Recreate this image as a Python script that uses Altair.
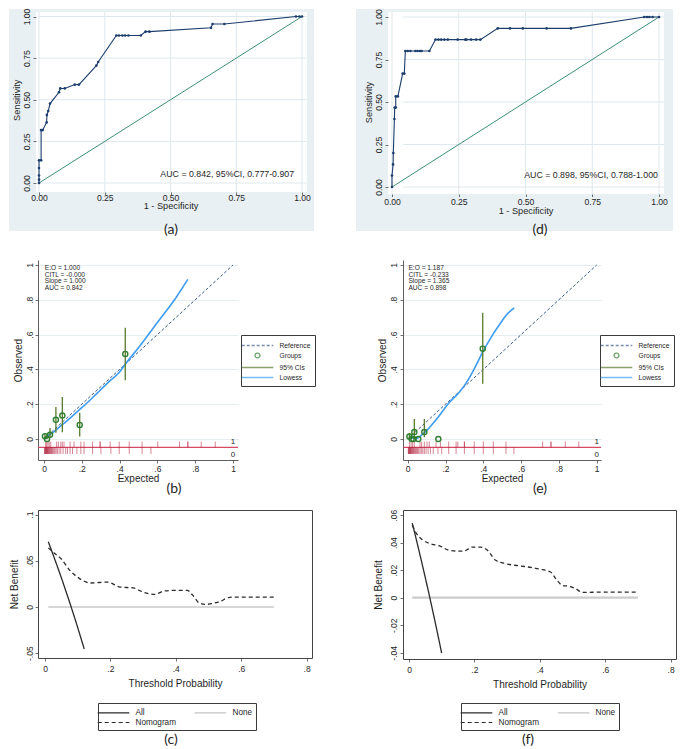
import altair as alt
import pandas as pd

FONT = "Liberation Sans"
CAPFONT = "Lato"
INK = "#1f1f1f"
ROC_BG = "#e8f0f3"
ROC_GRID = "#dfe8ec"
ROC_LINE = "#1c3e6e"
ROC_DIAG = "#3d8f78"
CAL_GRID = "#e6edf1"
C_REF = "#3e5c88"
C_GRP = "#2f7f30"
C_CI = "#587b2b"
C_LOW = "#3d9cf0"
RUG = "#b0203c"
RUG_LINE = "#d64a63"
DCA_DARK = "#2b2b2b"

# ---------------------------------------------------------------- data
roc_ticks = [0, 0.25, 0.5, 0.75, 1.0]
diag_x = [0.0, 1.0]
diag_y = [0.0, 1.0]

# (a) ROC
roc_a_fpr = [0.000, 0.000, 0.000, 0.000, 0.000, 0.008, 0.008, 0.014, 0.029, 0.030, 0.035, 0.042,
             0.076, 0.081, 0.098, 0.136, 0.152, 0.218, 0.225, 0.294, 0.304, 0.317, 0.327, 0.340,
             0.387, 0.405, 0.420, 0.654, 0.660, 0.705, 0.977, 0.990, 1.000]
roc_a_sens = [0.000, 0.020, 0.045, 0.090, 0.136, 0.136, 0.318, 0.318, 0.364, 0.409, 0.432, 0.477,
              0.545, 0.568, 0.568, 0.591, 0.591, 0.705, 0.727, 0.886, 0.886, 0.886, 0.886, 0.886,
              0.886, 0.909, 0.909, 0.932, 0.955, 0.955, 1.000, 1.000, 1.000]
roc_a_label = "AUC = 0.842, 95%CI, 0.777-0.907"

# (d) ROC
roc_d_fpr = [0.000, 0.000, 0.004, 0.005, 0.009, 0.010, 0.014, 0.014, 0.022, 0.040, 0.046, 0.050,
             0.059, 0.069, 0.088, 0.096, 0.105, 0.111, 0.140, 0.163, 0.174, 0.184, 0.196, 0.209,
             0.246, 0.274, 0.279, 0.296, 0.315, 0.331, 0.396, 0.442, 0.490, 0.579, 0.670,
             0.945, 0.955, 0.964, 0.976, 1.000]
roc_d_sens = [0.000, 0.067, 0.133, 0.200, 0.400, 0.467, 0.467, 0.533, 0.533, 0.667, 0.667, 0.800,
              0.800, 0.800, 0.800, 0.800, 0.800, 0.800, 0.800, 0.867, 0.867, 0.867, 0.867, 0.867,
              0.867, 0.867, 0.867, 0.867, 0.867, 0.867, 0.933, 0.933, 0.933, 0.933, 0.933,
              1.000, 1.000, 1.000, 1.000, 1.000]
roc_d_label = "AUC = 0.898, 95%CI, 0.788-1.000"

# calibration
cal_ticks = [0, 0.2, 0.4, 0.6, 0.8, 1.0]
cal_legend = ["Reference", "Groups", "95% CIs", "Lowess"]
ref_x = [0.0, 1.0]
ref_y = [0.0, 1.0]

# (b)
cal_b_gx = [0.005, 0.016, 0.032, 0.063, 0.097, 0.189, 0.430]
cal_b_gy = [0.016, 0.000, 0.024, 0.110, 0.135, 0.081, 0.489]
cal_b_lo = [0.000, 0.000, 0.006, 0.036, 0.039, 0.014, 0.337]
cal_b_hi = [0.035, 0.025, 0.063, 0.184, 0.241, 0.151, 0.640]
cal_b_lx = [0.005, 0.05, 0.10, 0.15, 0.20, 0.25, 0.283, 0.35, 0.40, 0.43, 0.50, 0.60, 0.70, 0.761]
cal_b_ly = [0.008, 0.040, 0.085, 0.132, 0.180, 0.230, 0.265, 0.335, 0.385, 0.430, 0.525, 0.670, 0.815, 0.917]
cal_b_rug1 = [0.009, 0.014, 0.021, 0.028, 0.036, 0.067, 0.076, 0.089, 0.097, 0.106, 0.138, 0.159,
              0.195, 0.212, 0.257, 0.297, 0.297, 0.350, 0.398, 0.451, 0.519, 0.602, 0.717, 0.761,
              0.761, 0.832, 0.906]
cal_b_rug0 = [0.003, 0.005, 0.007, 0.009, 0.011, 0.013, 0.015, 0.017, 0.019, 0.021, 0.024, 0.027,
              0.030, 0.033, 0.036, 0.040, 0.044, 0.048, 0.053, 0.058, 0.064, 0.071, 0.080, 0.089,
              0.101, 0.115, 0.124, 0.138, 0.151, 0.174, 0.195, 0.212, 0.257, 0.301, 0.354, 0.398,
              0.451, 0.519, 0.566]
cal_b_stats = ["E:O = 1.000", "CITL = -0.000", "Slope = 1.000", "AUC = 0.842"]

# (e)
cal_e_gx = [0.009, 0.021, 0.030, 0.035, 0.056, 0.088, 0.162, 0.397]
cal_e_gy = [0.014, 0.000, 0.000, 0.040, 0.000, 0.040, 0.000, 0.519]
cal_e_lo = [0.000, 0.000, 0.000, 0.000, 0.000, 0.010, 0.000, 0.317]
cal_e_hi = [0.035, 0.000, 0.000, 0.115, 0.000, 0.115, 0.000, 0.725]
cal_e_lx = [0.009, 0.025, 0.044, 0.070, 0.097, 0.130, 0.167, 0.212, 0.273, 0.320, 0.360, 0.397,
            0.450, 0.500, 0.520, 0.564]
cal_e_ly = [0.019, 0.006, 0.002, 0.020, 0.045, 0.085, 0.134, 0.200, 0.268, 0.340, 0.420, 0.500,
            0.600, 0.680, 0.710, 0.754]
cal_e_rug1 = [0.009, 0.018, 0.026, 0.035, 0.065, 0.074, 0.088, 0.102, 0.114, 0.150, 0.173, 0.217,
              0.256, 0.265, 0.300, 0.300, 0.352, 0.400, 0.453, 0.520, 0.714, 0.758, 0.758, 0.834,
              0.905]
cal_e_rug0 = [0.003, 0.005, 0.007, 0.009, 0.011, 0.013, 0.015, 0.018, 0.021, 0.024, 0.027, 0.030,
              0.034, 0.038, 0.042, 0.047, 0.052, 0.058, 0.065, 0.072, 0.080, 0.088, 0.097, 0.108,
              0.120, 0.135, 0.160, 0.180, 0.217, 0.256, 0.300, 0.352, 0.400, 0.453, 0.520, 0.562]
cal_e_stats = ["E:O = 1.187", "CITL = -0.233", "Slope = 1.365", "AUC = 0.898"]

# decision curves
dca_xticks = [0, 0.2, 0.4, 0.6, 0.8]
dca_legend = ["All", "None", "Nomogram"]
dca_none_pt = [0.01, 0.70]
dca_none_nb = [0.0, 0.0]

# (c)
dca_c_yticks = [-0.05, 0, 0.05, 0.1]
dca_c_all_pt = [0.01, 0.02, 0.04, 0.06, 0.08, 0.10, 0.12]
dca_c_all_nb = [0.0707, 0.0612, 0.0417, 0.0213, 0.0, -0.0222, -0.0455]
dca_c_nom_pt = [0.01, 0.03, 0.05, 0.075, 0.105, 0.14, 0.19, 0.23, 0.27, 0.30, 0.335, 0.365, 0.40,
                0.435, 0.452, 0.472, 0.492, 0.53, 0.57, 0.62, 0.70]
dca_c_nom_nb = [0.064, 0.058, 0.052, 0.040, 0.031, 0.026, 0.027, 0.0216, 0.0206, 0.016, 0.0137,
                0.0173, 0.018, 0.018, 0.0126, 0.0043, 0.0029, 0.0054, 0.0108, 0.0108, 0.0108]

# (f)
dca_f_yticks = [-0.04, -0.02, 0, 0.02, 0.04, 0.06]
dca_f_all_pt = [0.01, 0.02, 0.04, 0.06, 0.08, 0.10]
dca_f_all_nb = [0.0542, 0.0446, 0.0247, 0.0040, -0.0177, -0.0403]
dca_f_nom_pt = [0.01, 0.02, 0.041, 0.066, 0.097, 0.117, 0.148, 0.168, 0.194, 0.219, 0.24, 0.265,
                0.296, 0.336, 0.377, 0.398, 0.433, 0.449, 0.469, 0.489, 0.51, 0.53, 0.60, 0.70]
dca_f_nom_nb = [0.0526, 0.0477, 0.0421, 0.0392, 0.0373, 0.0349, 0.0339, 0.0339, 0.0368, 0.0368,
                0.0344, 0.0272, 0.0247, 0.0232, 0.0218, 0.0208, 0.0187, 0.0138, 0.009, 0.0083,
                0.0065, 0.0039, 0.0041, 0.0041]

captions = ["(a)", "(d)", "(b)", "(e)", "(c)", "(f)"]

# ---------------------------------------------------------------- helpers
one = pd.DataFrame({"k": [0]})

STATA = ("datum.value == 0 ? '0' : (datum.value < 0 ? '-' : '') + "
         "replace(format(abs(datum.value), '~g'), '0.', '.')")

# legend symbols: a long horizontal stroke and a small ring, in Vega's unit symbol space
LINE = "M-3,0H3"
RING = "M0.46,0A0.46,0.46,0,1,1,-0.46,0A0.46,0.46,0,1,1,0.46,0Z"
LEG_SIZE = 111


def ax(**kw):
    base = dict(labelFont=FONT, titleFont=FONT, labelColor=INK, titleColor=INK,
                tickColor="#4d4d4d", domainColor="#4d4d4d", titleFontWeight="normal",
                tickSize=3, tickWidth=0.8, domainWidth=0.9, labelFlush=False)
    base.update(kw)
    return alt.Axis(**base)


def box(x0, x1, y0, y1, color=ROC_BG):
    return alt.Chart(one).mark_rect(color=color, strokeWidth=0).encode(
        x=alt.value(x0), x2=alt.value(x1), y=alt.value(y0), y2=alt.value(y1))


def caption(txt, cx, cy):
    return alt.Chart(one).mark_text(font=CAPFONT, fontSize=14, color=INK, align="center",
                                    baseline="middle").encode(
        x=alt.value(cx), y=alt.value(cy), text=alt.value(txt))


def roc_panel(fpr, sens, label, lab_x, lab_y, W, H, xr, yr, yoff, xlp, left, right, bottom,
              wleft, cap, cx, cy):
    df = pd.DataFrame({"fpr": fpr, "sens": sens, "i": list(range(len(fpr)))})
    xs = alt.Scale(domain=[0, 1], range=xr)
    ys = alt.Scale(domain=[0, 1], range=yr)
    xa = ax(values=roc_ticks, format=".2f", title="1 - Specificity", grid=False, domain=False,
            labelFontSize=8.6, titleFontSize=9.2, tickSize=2.5, labelBaseline="middle",
            labelPadding=xlp, titlePadding=0, zindex=1)
    ya = ax(values=roc_ticks, format=".2f", title="Sensitivity", grid=False, domain=False,
            labelFontSize=8.6, titleFontSize=9.2, labelAngle=270, labelAlign="center",
            labelBaseline="bottom", labelPadding=2, titlePadding=1, offset=yoff, zindex=1)
    X = lambda f: alt.X(f, scale=xs, axis=xa)
    Y = lambda f: alt.Y(f, scale=ys, axis=ya)
    ticks_df = pd.DataFrame({"t": roc_ticks})
    layers = [
        box(left, right, -3, 0), box(left, right, H, bottom),
        box(left, wleft, 0, H), box(W, right, 0, H),
        alt.Chart(ticks_df).mark_rule(color=ROC_GRID, strokeWidth=1).encode(x=X("t:Q")),
        alt.Chart(ticks_df).mark_rule(color=ROC_GRID, strokeWidth=1).encode(y=Y("t:Q")),
        alt.Chart(pd.DataFrame({"x": diag_x, "y": diag_y})).mark_line(
            color=ROC_DIAG, strokeWidth=1).encode(x=X("x:Q"), y=Y("y:Q")),
        alt.Chart(df).mark_line(color=ROC_LINE, strokeWidth=1.1).encode(
            x=X("fpr:Q"), y=Y("sens:Q"), order="i:Q"),
        alt.Chart(df).mark_point(filled=True, color=ROC_LINE, size=7, opacity=1).encode(
            x=X("fpr:Q"), y=Y("sens:Q")),
        alt.Chart(one).mark_text(font=FONT, fontSize=8.8, color=INK, align="right",
                                 baseline="middle").encode(
            x=alt.XDatum(lab_x, scale=xs, axis=xa), y=alt.YDatum(lab_y, scale=ys, axis=ya),
            text=alt.value(label)),
        caption(cap, cx, cy),
    ]
    return alt.layer(*layers).properties(width=W, height=H)


def cal_panel(gx, gy, lo, hi, lx, ly, rug1, rug0, stats, W, xdom, legx, ylp, ytp, cap, cx, cy):
    H = 216
    xs = alt.Scale(domain=xdom, nice=False, zero=False)
    ys = alt.Scale(domain=[-0.1207, 1.0287], range=[216, 16], nice=False, zero=False)
    xa = ax(values=cal_ticks, labelExpr=STATA, title="Expected", grid=False, domain=True,
            labelFontSize=8.5, titleFontSize=10, labelBaseline="middle", labelPadding=5.5,
            titlePadding=0.5)
    ya = ax(values=cal_ticks, labelExpr=STATA, title="Observed", grid=True, gridColor=CAL_GRID,
            domain=True, labelFontSize=8.5, titleFontSize=10, labelAngle=270,
            labelAlign="center", labelBaseline="bottom", labelPadding=ylp, titlePadding=ytp)
    X = lambda f: alt.X(f, scale=xs, axis=xa)
    Y = lambda f: alt.Y(f, scale=ys, axis=ya)
    XD = lambda v: alt.XDatum(v, scale=xs, axis=xa)
    YD = lambda v: alt.YDatum(v, scale=ys, axis=ya)
    groups = pd.DataFrame({"x": gx, "y": gy, "lo": lo, "hi": hi})
    low = pd.DataFrame({"x": lx, "y": ly})
    leg = alt.Legend(title=None, orient="none", legendX=legx, legendY=91, padding=4.5,
                     rowPadding=0, labelFont=FONT, labelFontSize=6.7, labelColor=INK,
                     labelAlign="left", labelOffset=16, symbolOffset=6, symbolSize=LEG_SIZE,
                     symbolStrokeWidth=1.3, strokeColor="#3a3a3a", fillColor="white")
    layers = [
        alt.Chart(one).mark_rule(color=RUG_LINE, strokeWidth=1.3).encode(y=YD(-0.048)),
        alt.Chart(pd.DataFrame({"p": rug1})).mark_rule(color=RUG, strokeWidth=1, opacity=0.55).encode(
            x=X("p:Q"), y=YD(-0.048), y2=alt.Y2Datum(-0.015)),
        alt.Chart(pd.DataFrame({"p": rug0})).mark_rule(color=RUG, strokeWidth=1, opacity=0.55).encode(
            x=X("p:Q"), y=YD(-0.048), y2=alt.Y2Datum(-0.086)),
        alt.Chart(pd.DataFrame({"x": ref_x, "y": ref_y})).mark_line(
            color=C_REF, strokeWidth=1, strokeDash=[3, 2]).encode(x=X("x:Q"), y=Y("y:Q")),
        alt.Chart(one).mark_text(font=FONT, fontSize=8, color=INK, align="center",
                                 baseline="middle").encode(
            x=XD(1.0), y=YD(-0.019), text=alt.value("1")),
        alt.Chart(one).mark_text(font=FONT, fontSize=8, color=INK, align="center",
                                 baseline="middle").encode(
            x=XD(1.0), y=YD(-0.092), text=alt.value("0")),
        alt.Chart(low).mark_line(color=C_LOW, strokeWidth=1.6, interpolate="monotone").encode(
            x=X("x:Q"), y=Y("y:Q")),
        alt.Chart(groups).mark_rule(color=C_CI, strokeWidth=1.3).encode(
            x=X("x:Q"), y=Y("lo:Q"), y2="hi:Q"),
        alt.Chart(groups).mark_point(filled=False, color=C_GRP, size=26, strokeWidth=1.4,
                                     opacity=1).encode(x=X("x:Q"), y=Y("y:Q")),
        alt.Chart(one).mark_text(font=FONT, fontSize=6.6, lineHeight=6.7, color=INK,
                                 align="left", baseline="top", lineBreak="\n").encode(
            x=XD(0.004), y=YD(1.0), text=alt.value("\n".join(stats))),
        alt.Chart(pd.DataFrame({"series": cal_legend})).transform_filter("false").mark_point(
            filled=False).encode(
            color=alt.Color("series:N", scale=alt.Scale(domain=cal_legend,
                            range=[C_REF, C_GRP, C_CI, C_LOW]), legend=leg),
            shape=alt.Shape("series:N", scale=alt.Scale(domain=cal_legend,
                            range=[LINE, RING, LINE, LINE]), legend=leg),
            strokeDash=alt.StrokeDash("series:N", scale=alt.Scale(domain=cal_legend,
                            range=[[3, 2], [1, 0], [1, 0], [1, 0]]), legend=leg)),
        caption(cap, cx, cy),
    ]
    return alt.layer(*layers).properties(width=W, height=H)


def dca_panel(all_pt, all_nb, nom_pt, nom_nb, yticks, W, H, xdom, ydom, none_w, none_c,
              ylp, legx, cap, cx, cy):
    xs = alt.Scale(domain=xdom, nice=False, zero=False)
    ys = alt.Scale(domain=ydom, nice=False, zero=False)
    xa = ax(values=dca_xticks, labelExpr=STATA, title="Threshold Probability", grid=False,
            domain=False, labelFontSize=8.5, titleFontSize=10, labelBaseline="middle",
            labelPadding=7.3, titlePadding=5.5)
    ya = ax(values=yticks, labelExpr=STATA, title="Net Benefit", grid=False, domain=False,
            labelFontSize=8.5, titleFontSize=10, labelAngle=270, labelAlign="center",
            labelBaseline="bottom", labelPadding=ylp, titlePadding=6)
    X = lambda f: alt.X(f, scale=xs, axis=xa)
    Y = lambda f: alt.Y(f, scale=ys, axis=ya)
    curves = pd.concat([
        pd.DataFrame({"pt": all_pt, "nb": all_nb, "series": "All"}),
        pd.DataFrame({"pt": nom_pt, "nb": nom_nb, "series": "Nomogram"}),
    ], ignore_index=True)
    leg = alt.Legend(title=None, orient="none", legendX=legx, legendY=193, direction="horizontal",
                     columns=2, columnPadding=15, rowPadding=0, padding=3.5,
                     symbolType=LINE, symbolSize=LEG_SIZE, symbolOffset=6,
                     symbolStrokeWidth=1.2, labelFont=FONT, labelFontSize=8.2, labelColor=INK,
                     labelAlign="left", labelOffset=16, strokeColor="#3a3a3a", fillColor="white")
    layers = [
        alt.Chart(pd.DataFrame({"pt": dca_none_pt, "nb": dca_none_nb})).mark_line(
            color=none_c, strokeWidth=none_w).encode(x=X("pt:Q"), y=Y("nb:Q")),
        alt.Chart(curves).mark_line(strokeWidth=1.3, interpolate="monotone").encode(
            x=X("pt:Q"), y=Y("nb:Q"),
            color=alt.Color("series:N", scale=alt.Scale(domain=dca_legend,
                            range=[DCA_DARK, "#c4c4c4", DCA_DARK]), legend=leg),
            strokeDash=alt.StrokeDash("series:N", scale=alt.Scale(domain=dca_legend,
                            range=[[1, 0], [1, 0], [4, 3]]), legend=leg)),
        caption(cap, cx, cy),
    ]
    return alt.layer(*layers).properties(
        width=W, height=H, view=alt.ViewBackground(stroke="#444444", strokeWidth=1))


pa = roc_panel(roc_a_fpr, roc_a_sens, roc_a_label, 0.97, 0.054, 269, 180, [1, 264], [171, 4.5],
               2, 2.5, -29, 276, 219, -2, captions[0], 133, 218)
pdd = roc_panel(roc_d_fpr, roc_d_sens, roc_d_label, 0.996, 0.07, 261, 182, [-11, 256], [175, 5],
                15, 5, -47, 270, 219, -15, captions[1], 137, 218)
pb = cal_panel(cal_b_gx, cal_b_gy, cal_b_lo, cal_b_hi, cal_b_lx, cal_b_ly, cal_b_rug1, cal_b_rug0,
               cal_b_stats, 200, [-0.0317, 1.0265], 203, 0.5, 2, captions[2], 136, 245)
pe = cal_panel(cal_e_gx, cal_e_gy, cal_e_lo, cal_e_hi, cal_e_lx, cal_e_ly, cal_e_rug1, cal_e_rug0,
               cal_e_stats, 198, [-0.0249, 1.0228], 197, 1.5, 2.5, captions[3], 137, 245)
pc = dca_panel(dca_c_all_pt, dca_c_all_nb, dca_c_nom_pt, dca_c_nom_nb, dca_c_yticks, 274, 148,
               [-0.0214, 0.8165], [-0.0552, 0.1050], 1.2, "#b0b0b0", 1, 60, captions[4], 133, 230)
pf = dca_panel(dca_f_all_pt, dca_f_all_nb, dca_f_nom_pt, dca_f_nom_nb, dca_f_yticks, 273, 149,
               [-0.0183, 0.8165], [-0.0445, 0.0637], 2.2, "#cccccc", 1.6, 58, captions[5], 125, 230)

chart = alt.concat(pa, pdd, pb, pe, pc, pf, columns=2, spacing={"row": 50, "column": 91},
                   bounds="flush").resolve_scale(
    color="independent", shape="independent", strokeDash="independent").resolve_legend(
    color="independent", shape="independent", strokeDash="independent").properties(
    padding=0, background="white").configure_view(strokeWidth=0).configure_text(font=FONT)

chart.save("out.html", embed_options={"renderer": "svg", "actions": False})
